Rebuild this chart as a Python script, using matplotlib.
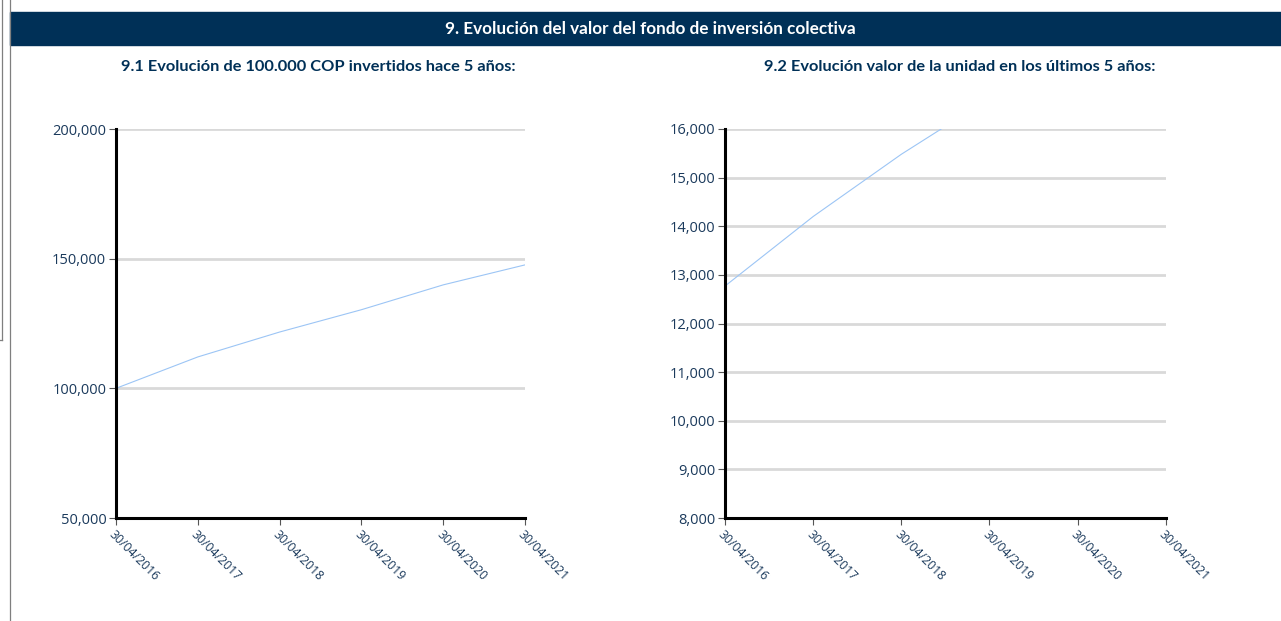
import matplotlib.pyplot as plt
import matplotlib.dates as mdates
import matplotlib.ticker as mticker
from matplotlib.patches import Rectangle
from matplotlib.lines import Line2D
import pandas as pd

# fechas de corte
fechas = ["30/04/2016", "30/04/2017", "30/04/2018", "30/04/2019", "30/04/2020", "30/04/2021"]
# 9.1 evolucion de 100.000 COP
inversion = [100000, 112100, 121700, 130300, 139900, 147600]
# 9.2 valor de la unidad
unidad = [12770, 14200, 15480, 16630, 17860, 18850]

titulo = "9. Evolución del valor del fondo de inversión colectiva"
sub1 = "9.1 Evolución de 100.000 COP invertidos hace 5 años:"
sub2 = "9.2 Evolución valor de la unidad en los últimos 5 años:"

navy = "#003057"
txt = "#1b3a5c"
x = mdates.date2num(pd.to_datetime(fechas, format="%d/%m/%Y"))

plt.rcParams['font.family'] = ['Open Sans', 'DejaVu Sans']

fig = plt.figure(figsize=(12.81, 6.21), dpi=100)

# marco de la pagina
fig.add_artist(Line2D([2/1281, 2/1281], [1, 1-340/621], color="#7f7f7f", lw=0.9))
fig.add_artist(Line2D([0, 2/1281], [1-340/621, 1-340/621], color="#7f7f7f", lw=0.9))
fig.add_artist(Line2D([10/1281, 10/1281], [1, 0], color="#7f7f7f", lw=0.9))

# barra de encabezado
fig.add_artist(Rectangle((10/1281, 1-45/621), 1-10/1281, 33/621,
                         transform=fig.transFigure, color=navy, zorder=0))
fig.text(0.508, 1-29/621, titulo, color="white", fontsize=12.3, fontweight="bold",
         ha="center", va="center", family=['Lato', 'DejaVu Sans'])


def panel(rect, vals, lo, hi, step, subtitulo, sx):
    ax = fig.add_axes(rect)
    ax.plot(x, vals, color="#9cc5f5", lw=0.8, zorder=3, clip_on=True)
    ax.set_xlim(x[0], x[-1])
    ax.set_ylim(lo, hi)
    ax.yaxis.set_major_locator(mticker.MultipleLocator(step))
    ax.yaxis.set_major_formatter(mticker.FuncFormatter(lambda v, p: f"{v:,.0f}"))
    ax.set_xticks(x)
    ax.set_xticklabels(fechas)
    for lab in ax.get_xticklabels():
        lab.set_rotation(-45)
        lab.set_rotation_mode("anchor")
        lab.set_ha("left")
        lab.set_va("top")
    ax.grid(axis="y", color="#d9d9d9", lw=2.0, zorder=0)
    ax.set_axisbelow(True)
    for s in ["top", "right"]:
        ax.spines[s].set_visible(False)
    for s in ["left", "bottom"]:
        ax.spines[s].set_linewidth(2.2)
        ax.spines[s].set_color("black")
        ax.spines[s].set_zorder(4)
    ax.tick_params(axis="y", length=5, width=0.8, color="#555555", labelcolor=txt,
                   labelsize=10.5, pad=2)
    ax.tick_params(axis="x", length=5, width=0.8, color="#555555", labelcolor=txt,
                   labelsize=8.8, pad=2)
    fig.text(sx, 1-67/621, subtitulo, color=navy, fontsize=11.8, fontweight="bold",
             ha="center", va="center", family=['Lato', 'DejaVu Sans'])
    return ax


panel([116/1281, 1-518/621, 409/1281, 389/621], inversion, 50000, 200000, 50000, sub1, 318/1281)
panel([725/1281, 1-518/621, 441/1281, 389/621], unidad, 8000, 16000, 1000, sub2, 960/1281)

fig.savefig("out.png", dpi=100)
